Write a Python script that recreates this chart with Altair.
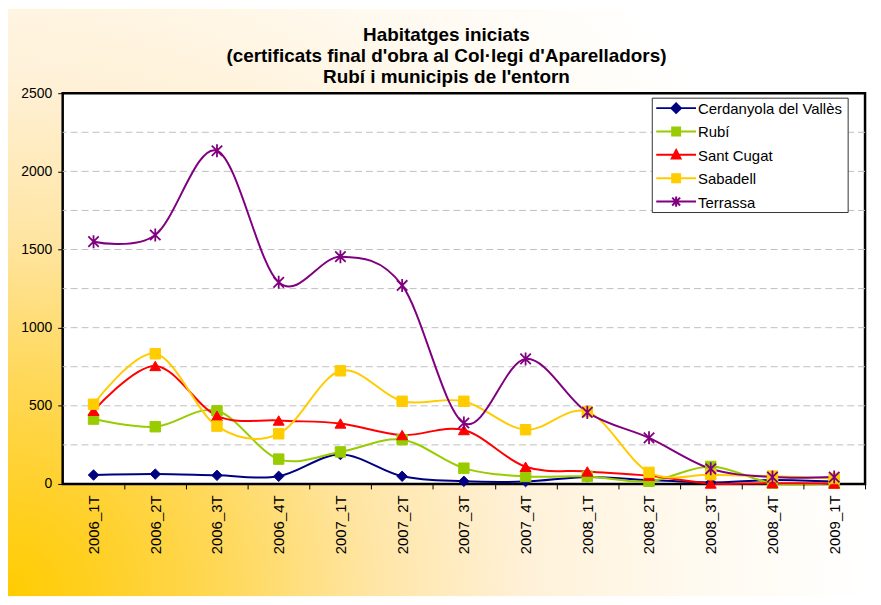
import altair as alt
import pandas as pd

quarters = ["2006_1T", "2006_2T", "2006_3T", "2006_4T", "2007_1T", "2007_2T", "2007_3T",
            "2007_4T", "2008_1T", "2008_2T", "2008_3T", "2008_4T", "2009_1T"]
series_names = ["Cerdanyola del Vallès", "Rubí", "Sant Cugat", "Sabadell", "Terrassa"]
cerdanyola = [57, 63, 55, 49, 188, 49, 17, 15, 45, 25, 10, 25, 15]
rubi = [415, 366, 468, 159, 205, 283, 101, 48, 48, 17, 112, 5, 5]
sant_cugat = [468, 755, 436, 406, 387, 313, 345, 110, 80, 53, 3, 5, 3]
sabadell = [510, 833, 370, 321, 724, 529, 529, 347, 463, 74, 59, 50, 35]
terrassa = [1550, 1593, 2132, 1290, 1454, 1270, 390, 800, 458, 295, 97, 44, 44]
colors = ["#000080", "#99CC00", "#FF0000", "#FFCC00", "#800080"]
title_lines = ["Habitatges iniciats",
               "(certificats final d'obra al Col·legi d'Aparelladors)",
               "Rubí i municipis de l'entorn"]
grid_values = list(range(250, 2500, 250))
tick_values = list(range(0, 2501, 250))

rows = []
for name, vals in zip(series_names, [cerdanyola, rubi, sant_cugat, sabadell, terrassa]):
    for q, v in zip(quarters, vals):
        rows.append({"trimestre": q, "serie": name, "valor": v})
df = pd.DataFrame(rows)

W, H = 807, 393
PAD = {"left": 55, "top": 84, "right": 8, "bottom": 113}
FONT = "Liberation Sans"
step = W / len(quarters)

x_enc = alt.X("trimestre:N", sort=quarters,
              scale=alt.Scale(type="point", padding=0.5),
              axis=alt.Axis(title=None, labelAngle=-90, labelFontSize=15, labelFont=FONT,
                            labelColor="black", tickSize=5, tickColor="black", tickWidth=1,
                            tickOffset=step / 2, labelOffset=-step / 2, domain=False,
                            grid=False, labelPadding=6, zindex=1))
y_enc = alt.Y("valor:Q", scale=alt.Scale(domain=[0, 2500], nice=False, zero=True),
              axis=alt.Axis(title=None, values=tick_values, format="d", grid=False,
                            domain=False, tickSize=5, tickColor="black", tickWidth=1,
                            labelPadding=6, labelFontSize=14, labelFont=FONT,
                            labelColor="black", zindex=1))

one = pd.DataFrame({"k": [0]})

bg = alt.Chart(one).mark_rect(
    fill=alt.RadialGradient(
        gradient="radial",
        stops=[alt.GradientStop(color="#FFCC00", offset=0),
               alt.GradientStop(color="#FFD028", offset=0.12),
               alt.GradientStop(color="#FFD858", offset=0.25),
               alt.GradientStop(color="#FFE5A4", offset=0.42),
               alt.GradientStop(color="#FFF1D8", offset=0.6),
               alt.GradientStop(color="#FFFAF0", offset=0.8),
               alt.GradientStop(color="#FFFFFF", offset=1)],
        x1=0, y1=0.839, r1=0, x2=0, y2=0.839, r2=1)
).encode(x=alt.value(-PAD["left"]), x2=alt.value(W + PAD["right"]),
         y=alt.value(-PAD["top"]), y2=alt.value(H + PAD["bottom"]))

plot_rect = alt.Chart(one).mark_rect(fill="white", stroke="black", strokeWidth=2.5).encode(
    x=alt.value(0), x2=alt.value(W), y=alt.value(0), y2=alt.value(H))

title_layers = []
for line, yy in zip(title_lines, [-53, -31, -10]):
    title_layers.append(
        alt.Chart(one).mark_text(text=line, font=FONT, fontSize=19, fontWeight="bold",
                                 align="center", baseline="alphabetic", color="black")
        .encode(x=alt.value(386), y=alt.value(yy)))

grid = alt.Chart(pd.DataFrame({"valor": grid_values})).mark_rule(
    color="#C0C0C0", strokeDash=[7, 4], strokeWidth=1).encode(y=alt.Y("valor:Q"))

lines = alt.Chart(df).mark_line(interpolate="cardinal", strokeWidth=2).encode(
    x=x_enc, y=y_enc,
    color=alt.Color("serie:N", scale=alt.Scale(domain=series_names, range=colors), legend=None))

asterisk = "M-1,-1L1,1M-1,1L1,-1M0,-1.25L0,1.25"
marker_specs = [("diamond", True, 110, 1), ("square", True, 110, 1),
                ("triangle-up", True, 120, 1), ("square", True, 110, 1),
                (asterisk, False, 110, 1.8)]
markers = []
for name, col, (shp, filled, sz, sw) in zip(series_names, colors, marker_specs):
    if filled:
        mk = alt.Chart(df).transform_filter(alt.datum.serie == name).mark_point(
            shape=shp, filled=True, fill=col, stroke=col, size=sz, strokeWidth=sw, opacity=1)
    else:
        mk = alt.Chart(df).transform_filter(alt.datum.serie == name).mark_point(
            shape=shp, filled=False, stroke=col, size=sz, strokeWidth=sw, opacity=1)
    markers.append(mk.encode(x=x_enc, y=y_enc))

# Legend (drawn by hand, Excel style: line + marker)
legend_paths = [
    "M-2.5,0H2.5M0,-0.6L0.6,0L0,0.6L-0.6,0Z",
    "M-2.5,0H2.5M-0.5,-0.5H0.5V0.5H-0.5Z",
    "M-2.5,0H2.5M0,-0.6L0.55,0.45H-0.55Z",
    "M-2.5,0H2.5M-0.5,-0.5H0.5V0.5H-0.5Z",
    "M-2.5,0H2.5M-0.5,-0.5L0.5,0.5M-0.5,0.5L0.5,-0.5M0,-0.65V0.65",
]
LX, LY, LW, LH = 593, 5, 197, 115
legend_box = alt.Chart(one).mark_rect(fill="white", stroke="#333333", strokeWidth=1).encode(
    x=alt.value(LX), x2=alt.value(LX + LW), y=alt.value(LY), y2=alt.value(LY + LH))
legend_layers = [legend_box]
for i, (name, col, path) in enumerate(zip(series_names, colors, legend_paths)):
    yy = LY + 10 + i * 23.5
    legend_layers.append(
        alt.Chart(one).mark_point(shape=path, filled=True, fill=col, stroke=col,
                                  strokeWidth=2, size=256, opacity=1)
        .encode(x=alt.value(LX + 24), y=alt.value(yy)))
    legend_layers.append(
        alt.Chart(one).mark_text(text=name, font=FONT, fontSize=15, align="left",
                                 baseline="middle", color="black")
        .encode(x=alt.value(LX + 46), y=alt.value(yy + 1)))

chart = alt.layer(bg, plot_rect, *title_layers, grid, lines, *markers,
                  *legend_layers).properties(
    width=W, height=H, padding=PAD, autosize=alt.AutoSizeParams(type="none")
).configure_view(stroke=None)

chart.save("out.html", embed_options={"renderer": "svg", "actions": False})
